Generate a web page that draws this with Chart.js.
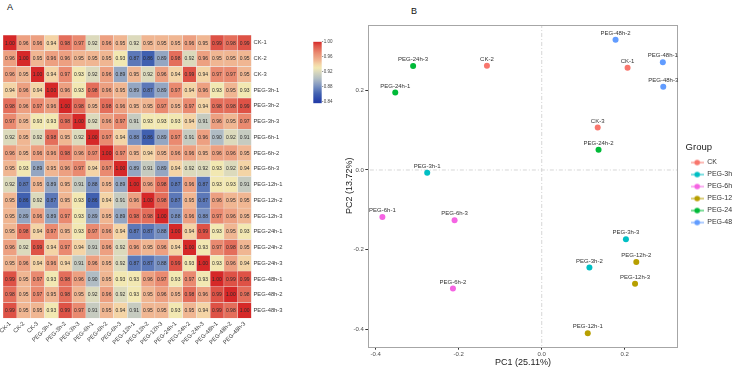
<!DOCTYPE html>
<html>
<head>
<meta charset="utf-8">
<script src="https://cdn.jsdelivr.net/npm/chart.js@4.4.1/dist/chart.umd.min.js"></script>
<style>
html, body { margin: 0; padding: 0; background: #fff; width: 732px; height: 369px; overflow: hidden; }
canvas { position: absolute; }
.tag { position: absolute; font: 9px 'Liberation Sans', Arial, sans-serif; color: #111; }
</style>
</head>
<body>
<div class="tag" style="left:7px;top:2px">A</div>
<div class="tag" style="left:411px;top:6px">B</div>
<canvas id="heat" style="left:0;top:0" width="305" height="369"></canvas>
<canvas id="scale" style="left:300px;top:30px" width="40" height="80"></canvas>
<canvas id="pca" style="left:340px;top:0" width="406" height="369"></canvas>
<script>
// sample names (rows / columns of the correlation matrix)
const samples = ['CK-1', 'CK-2', 'CK-3', 'PEG-3h-1', 'PEG-3h-2', 'PEG-3h-3', 'PEG-6h-1', 'PEG-6h-2', 'PEG-6h-3',
  'PEG-12h-1', 'PEG-12h-2', 'PEG-12h-3', 'PEG-24h-1', 'PEG-24h-2', 'PEG-24h-3', 'PEG-48h-1', 'PEG-48h-2', 'PEG-48h-3'];

// correlation matrix, one row per sample
const corr = [
  [1.00,0.96,0.96,0.94,0.98,0.97,0.92,0.96,0.95,0.92,0.95,0.95,0.95,0.96,0.95,0.99,0.98,0.99],
  [0.96,1.00,0.95,0.96,0.96,0.95,0.95,0.95,0.93,0.87,0.86,0.89,0.98,0.92,0.96,0.95,0.95,0.95],
  [0.96,0.95,1.00,0.94,0.97,0.93,0.92,0.96,0.89,0.95,0.92,0.96,0.94,0.99,0.94,0.97,0.97,0.95],
  [0.94,0.96,0.94,1.00,0.96,0.93,0.98,0.96,0.95,0.89,0.87,0.89,0.97,0.94,0.96,0.93,0.95,0.93],
  [0.98,0.96,0.97,0.96,1.00,0.98,0.95,0.98,0.96,0.95,0.95,0.97,0.95,0.97,0.94,0.98,0.98,0.99],
  [0.97,0.95,0.93,0.93,0.98,1.00,0.92,0.96,0.97,0.91,0.93,0.93,0.93,0.94,0.91,0.96,0.95,0.97],
  [0.92,0.95,0.92,0.98,0.95,0.92,1.00,0.97,0.94,0.88,0.86,0.89,0.97,0.91,0.96,0.90,0.92,0.91],
  [0.96,0.95,0.96,0.96,0.98,0.96,0.97,1.00,0.97,0.95,0.94,0.95,0.96,0.96,0.95,0.96,0.96,0.95],
  [0.95,0.93,0.89,0.95,0.96,0.97,0.94,0.97,1.00,0.89,0.91,0.89,0.94,0.92,0.92,0.93,0.92,0.94],
  [0.92,0.87,0.95,0.89,0.95,0.91,0.88,0.95,0.89,1.00,0.96,0.98,0.87,0.96,0.87,0.93,0.93,0.91],
  [0.95,0.86,0.92,0.87,0.95,0.93,0.86,0.94,0.91,0.96,1.00,0.98,0.87,0.95,0.87,0.96,0.95,0.95],
  [0.95,0.89,0.96,0.89,0.97,0.93,0.89,0.95,0.89,0.98,0.98,1.00,0.88,0.96,0.88,0.97,0.96,0.95],
  [0.95,0.98,0.94,0.97,0.95,0.93,0.97,0.96,0.94,0.87,0.87,0.88,1.00,0.94,0.99,0.93,0.95,0.93],
  [0.96,0.92,0.99,0.94,0.97,0.94,0.91,0.96,0.92,0.96,0.95,0.96,0.94,1.00,0.93,0.97,0.98,0.95],
  [0.95,0.96,0.94,0.96,0.94,0.91,0.96,0.95,0.92,0.87,0.87,0.88,0.99,0.93,1.00,0.93,0.96,0.94],
  [0.99,0.95,0.97,0.93,0.98,0.96,0.90,0.95,0.93,0.93,0.96,0.97,0.93,0.97,0.93,1.00,0.99,0.99],
  [0.98,0.95,0.97,0.95,0.98,0.95,0.92,0.96,0.92,0.93,0.95,0.96,0.95,0.98,0.96,0.99,1.00,0.98],
  [0.99,0.95,0.95,0.93,0.99,0.97,0.91,0.95,0.94,0.91,0.95,0.95,0.93,0.95,0.94,0.99,0.98,1.00]
];

const colorbarTicks = [0.84, 0.86, 0.88, 0.90, 0.92, 0.94, 0.96, 0.98, 1.00];

// PCA
const groups = ['CK', 'PEG-3h', 'PEG-6h', 'PEG-12h', 'PEG-24h', 'PEG-48h'];
const pc1 = [0.207, -0.132, 0.135, -0.276, 0.115, 0.203, -0.384, -0.214, -0.210,
  0.111, 0.228, 0.225, -0.353, 0.137, -0.310, 0.292, 0.178, 0.293];
const pc2 = [0.257, 0.262, 0.107, -0.007, -0.245, -0.174, -0.118, -0.298, -0.126,
  -0.410, -0.231, -0.286, 0.195, 0.051, 0.261, 0.271, 0.327, 0.209];
const pcTicks = [-0.4, -0.2, 0.0, 0.2];

const family = "'Liberation Sans', Arial, Helvetica, sans-serif";
const groupColors = ['#F8766D', '#00BFC4', '#F564E3', '#B79F00', '#00BA38', '#619CFF'];

// colour ramp of the heatmap
const heatStops = [
  [0.84, [36, 62, 168]], [0.86, [64, 96, 176]], [0.88, [120, 144, 192]], [0.90, [176, 188, 196]],
  [0.92, [220, 218, 188]], [0.93, [242, 232, 178]], [0.94, [244, 212, 166]], [0.95, [240, 182, 146]],
  [0.97, [234, 138, 112]], [0.99, [222, 82, 70]], [1.00, [214, 40, 40]]
];
function heatColor(v) {
  if (v <= heatStops[0][0]) return 'rgb(' + heatStops[0][1].join(',') + ')';
  for (let k = 1; k < heatStops.length; k++) {
    const [v1, c1] = heatStops[k];
    if (v <= v1) {
      const [v0, c0] = heatStops[k - 1];
      const t = (v - v0) / (v1 - v0);
      return 'rgb(' + c0.map((c, n) => Math.round(c + (c1[n] - c) * t)).join(',') + ')';
    }
  }
  return 'rgb(' + heatStops[heatStops.length - 1][1].join(',') + ')';
}

// ---- heatmap ----
const cellText = {
  id: 'cellText',
  afterDatasetsDraw(chart) {
    const ctx = chart.ctx;
    ctx.save();
    ctx.font = '5px ' + family;
    ctx.fillStyle = '#2b2b2b';
    ctx.textAlign = 'center';
    ctx.textBaseline = 'middle';
    chart.data.datasets.forEach((ds, j) => {
      chart.getDatasetMeta(j).data.forEach((bar, i) => {
        ctx.fillText(corr[i][j].toFixed(2), (bar.x + bar.base) / 2, bar.y + 0.3);
      });
    });
    ctx.restore();
  }
};

new Chart(document.getElementById('heat'), {
  type: 'bar',
  data: {
    labels: samples,
    datasets: samples.map((name, j) => ({
      label: name,
      data: samples.map(() => 1),
      backgroundColor: corr.map(row => heatColor(row[j])),
      borderColor: '#eeeeee',
      borderWidth: 0.5,
      borderSkipped: false,
      barPercentage: 1,
      categoryPercentage: 1
    }))
  },
  options: {
    indexAxis: 'y',
    responsive: false,
    animation: false,
    layout: { padding: { left: 3, top: 35 } },
    scales: {
      x: {
        type: 'linear', stacked: true, min: 0, max: samples.length,
        afterBuildTicks: s => { s.ticks = samples.map((_, j) => ({ value: j + 0.5 })); },
        ticks: {
          autoSkip: false, minRotation: 45, maxRotation: 45, padding: 2,
          font: { size: 5.8, family }, color: '#3a3a3a',
          callback: v => samples[Math.floor(v)]
        },
        grid: { display: false, drawTicks: false },
        border: { display: false },
        afterFit: s => { s.height = 50.7; s.paddingLeft = 0; s.paddingRight = 0; }
      },
      y: {
        position: 'right', stacked: true,
        ticks: { padding: 2, font: { size: 5.8, family }, color: '#3a3a3a' },
        grid: { display: false, drawTicks: false },
        border: { display: false },
        afterFit: s => { s.width = 53.5; s.paddingTop = 0; s.paddingBottom = 0; }
      }
    },
    plugins: { legend: { display: false }, tooltip: { enabled: false } }
  },
  plugins: [cellText]
});

// ---- colour bar ----
const cbMin = 0.835, cbMax = 1.0;
function barGradient(chart) {
  const area = chart.chartArea;
  if (!area) return null;
  const y = chart.scales.y;
  const top = y.getPixelForValue(cbMax), bottom = y.getPixelForValue(cbMin);
  const g = chart.ctx.createLinearGradient(0, bottom, 0, top);
  for (let k = 0; k <= 40; k++) {
    const v = cbMin + (cbMax - cbMin) * k / 40;
    g.addColorStop(k / 40, heatColor(v));
  }
  return g;
}
new Chart(document.getElementById('scale'), {
  type: 'bar',
  data: {
    labels: [''],
    datasets: [{
      data: [[cbMin, cbMax]],
      backgroundColor: c => barGradient(c.chart),
      borderWidth: 0,
      barPercentage: 1,
      categoryPercentage: 1
    }]
  },
  options: {
    responsive: false,
    animation: false,
    layout: { padding: { left: 13.3, top: 11.7, bottom: 6.7 } },
    scales: {
      x: { display: false },
      y: {
        position: 'right', min: cbMin, max: cbMax,
        afterBuildTicks: s => { s.ticks = colorbarTicks.map(v => ({ value: v })); },
        ticks: { padding: 0.5, font: { size: 4.5, family }, color: '#444', callback: v => v.toFixed(2) },
        grid: { drawOnChartArea: false, tickLength: 1.5, color: '#999' },
        border: { display: false },
        afterFit: s => { s.width = 18.3; }
      }
    },
    plugins: { legend: { display: false }, tooltip: { enabled: false } }
  }
});

// ---- PCA scatter ----
function legendIcon(color) {
  const c = document.createElement('canvas');
  c.width = 13; c.height = 8;
  const g = c.getContext('2d');
  g.strokeStyle = color; g.lineWidth = 1;
  g.beginPath(); g.moveTo(0, 4); g.lineTo(13, 4); g.stroke();
  g.fillStyle = color;
  g.beginPath(); g.arc(6.5, 4, 2.8, 0, Math.PI * 2); g.fill();
  return c;
}
const legendIcons = groupColors.map(legendIcon);

const groupOf = name => name.slice(0, name.lastIndexOf('-'));
const pointSets = groups.map((grp, gi) => {
  const idx = samples.map((s, i) => i).filter(i => groupOf(samples[i]) === grp);
  return {
    label: grp,
    names: idx.map(i => samples[i]),
    data: idx.map(i => ({ x: pc1[i], y: pc2[i] })),
    backgroundColor: groupColors[gi],
    borderWidth: 0,
    pointRadius: 3,
    order: 0
  };
});
const refLine = pts => ({
  type: 'line', data: pts, borderColor: '#cccccc', borderWidth: 0.8,
  borderDash: [4, 2, 1, 2], pointRadius: 0, order: 1
});

const frame = {
  id: 'frame',
  afterDatasetsDraw(chart) {
    const { left, top, right, bottom } = chart.chartArea;
    const ctx = chart.ctx;
    ctx.save();
    ctx.strokeStyle = '#a6a6a6';
    ctx.lineWidth = 1;
    ctx.strokeRect(Math.round(left) + 0.5, Math.round(top) + 0.5, Math.round(right - left), Math.round(bottom - top));
    ctx.restore();
  }
};
const pointLabels = {
  id: 'pointLabels',
  afterDatasetsDraw(chart) {
    const ctx = chart.ctx;
    ctx.save();
    ctx.font = '6px ' + family;
    ctx.fillStyle = '#333';
    ctx.textAlign = 'center';
    ctx.textBaseline = 'middle';
    chart.data.datasets.forEach((ds, di) => {
      if (!ds.names) return;
      chart.getDatasetMeta(di).data.forEach((pt, i) => ctx.fillText(ds.names[i], pt.x, pt.y - 6.5));
    });
    ctx.restore();
  }
};

new Chart(document.getElementById('pca'), {
  type: 'scatter',
  data: {
    datasets: [
      ...pointSets,
      refLine([{ x: 0, y: -1 }, { x: 0, y: 1 }]),
      refLine([{ x: -1, y: 0 }, { x: 1, y: 0 }])
    ]
  },
  options: {
    responsive: false,
    animation: false,
    layout: { padding: { top: 25 } },
    scales: {
      x: {
        min: -0.418, max: 0.3276,
        afterBuildTicks: s => { s.ticks = pcTicks.map(v => ({ value: v })); },
        ticks: { padding: 1, font: { size: 6, family }, color: '#4d4d4d', callback: v => v.toFixed(1) },
        grid: { drawOnChartArea: false, tickLength: 3, color: '#333' },
        border: { display: false },
        title: { display: true, text: 'PC1 (25.11%)', font: { size: 9, family }, color: '#222', padding: { top: 0, bottom: 1 } },
        afterFit: s => { s.height = 22.3; }
      },
      y: {
        min: -0.444, max: 0.3643,
        afterBuildTicks: s => { s.ticks = pcTicks.map(v => ({ value: v })); },
        ticks: { padding: 1.5, font: { size: 6, family }, color: '#4d4d4d', callback: v => v.toFixed(1) },
        grid: { drawOnChartArea: false, tickLength: 3, color: '#333' },
        border: { display: false },
        title: { display: true, text: 'PC2 (13.72%)', font: { size: 9, family }, color: '#222' },
        afterFit: s => { s.width = 28.3; }
      },
      gap: {
        type: 'linear', position: 'right', display: true,
        ticks: { display: false }, grid: { display: false, drawTicks: false }, border: { display: false },
        afterFit: s => { s.width = 8; }
      }
    },
    plugins: {
      tooltip: { enabled: false },
      legend: {
        position: 'right',
        fullSize: false,
        title: { display: true, text: 'Group', position: 'start', color: '#222', font: { size: 9.5, family }, padding: { top: 2, bottom: 0 } },
        labels: {
          usePointStyle: true, pointStyleWidth: 13.1, padding: 5,
          font: { size: 7, family }, color: '#333',
          generateLabels: () => groups.map((g, i) => ({
            text: g, pointStyle: legendIcons[i], fillStyle: groupColors[i], strokeStyle: groupColors[i],
            lineWidth: 0, hidden: false, datasetIndex: i, fontColor: '#333'
          }))
        }
      }
    }
  },
  plugins: [frame, pointLabels]
});
</script>
</body>
</html>
